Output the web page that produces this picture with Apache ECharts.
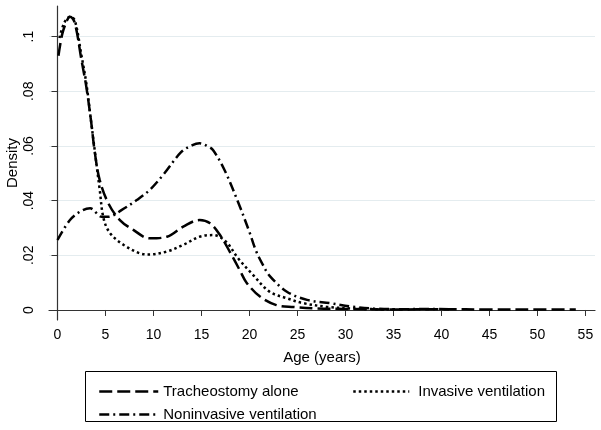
<!DOCTYPE html>
<html>
<head>
<meta charset="utf-8">
<script src="https://cdn.jsdelivr.net/npm/echarts@6/dist/echarts.min.js"></script>
<style>
html,body{margin:0;padding:0;background:#fff;}
#c{width:601px;height:430px;}
</style>
</head>
<body>
<div id="c"></div>
<script>
var xTicks = [0,5,10,15,20,25,30,35,40,45,50,55];
var yTicks = [0,0.02,0.04,0.06,0.08,0.1];
var yTickLabels = ['0','.02','.04','.06','.08','.1'];

var ageTrach  = [0.1,0.5,1.0,1.3,1.8,2.5,3.0,3.5,3.9,4.4,5.3,6.5,7.9,9.6,11.4,13.1,14.8,15.9,16.9,18.0,19.0,19.7,21.1,22.8,24.6,27,30,35,40,45,50,54];
var densTrach = [0.093,0.101,0.106,0.1073,0.105,0.0914,0.0817,0.069,0.0573,0.0475,0.039,0.0329,0.0293,0.0262,0.0268,0.0305,0.0329,0.0317,0.0276,0.021,0.0145,0.0100,0.0049,0.0018,0.0011,0.0006,0.0004,0.0002,0.0003,0.0002,0.0002,0.0002];

var ageInv  = [0.2,0.7,1.3,1.8,2.5,3.0,3.5,4.0,4.4,4.8,5.5,6.9,8.6,9.6,11.4,13.1,14.8,16.2,17.5,18.8,20.2,22.1,23.9,25.6,28,31,35];
var densInv = [0.0995,0.105,0.1073,0.106,0.093,0.083,0.069,0.055,0.044,0.0335,0.028,0.0238,0.0207,0.0203,0.0214,0.0238,0.0268,0.0274,0.0252,0.019,0.0135,0.0067,0.0043,0.0025,0.0012,0.0005,0.0002];

var ageNonInv  = [0,1.3,2.5,3.4,4.6,5.3,6.7,8.25,9.6,11.0,12.9,14.0,14.8,15.6,16.2,17.4,18.8,20.0,20.7,21.4,22.1,23.9,26,28.4,30.8,33,36,39,41];
var densNonInv = [0.0256,0.0329,0.0363,0.0372,0.0341,0.0341,0.0366,0.0402,0.0439,0.0494,0.0578,0.0602,0.0610,0.0600,0.0585,0.0512,0.0396,0.0285,0.0215,0.0165,0.0125,0.0067,0.0037,0.0025,0.0012,0.0005,0.0003,0.0004,0.0002];

function zip(a,b){ return a.map(function(v,i){ return [v,b[i]]; }); }

var chart = echarts.init(document.getElementById('c'), null, {renderer:'canvas'});
var font = 'Liberation Sans, Arial, sans-serif';
function lineSeries(name, data, dash){
  return {
    name: name, type: 'line', data: data, smooth: 0.35, symbol: 'none',
    lineStyle: {color:'#000', width: 2.5, type: dash},
    itemStyle: {color:'#000'},
    emphasis: {disabled: true}, animation: false
  };
}
var legendCommon = {
  orient:'vertical', top:379, itemHeight:14, itemGap:8, selectedMode:false,
  itemStyle:{color:'rgba(0,0,0,0)', borderWidth:0, opacity:0},
  lineStyle:{width:2.5, color:'#000'}
};
chart.setOption({
  animation: false,
  grid: {left: 49, right: 6, top: 6, bottom: 110, containLabel: false, outerBoundsMode: 'none'},
  xAxis: {
    type: 'value', min: -0.885, max: 56,
    axisLine: {lineStyle:{color:'#333', width:1.2}},
    axisTick: {show:true, length:6, lineStyle:{color:'#333'}, customValues: xTicks},
    axisLabel: {customValues: xTicks, color:'#000', fontSize:14, fontFamily:font, margin:8},
    splitLine: {show:false},
    name: 'Age (years)', nameLocation:'middle', nameGap: 30, nameMoveOverlap: false,
    nameTextStyle: {color:'#000', fontSize:15, fontFamily:font}
  },
  yAxis: {
    type: 'value', min: -0.00366, max: 0.1112,
    axisLine: {show:true, lineStyle:{color:'#333', width:1.2}},
    axisTick: {show:true, length:6, lineStyle:{color:'#333'}, customValues: yTicks},
    axisLabel: {customValues: yTicks, rotate: 90, color:'#000', fontSize:14, fontFamily:font, margin:13,
      formatter: function(v){ var i = yTicks.findIndex(function(t){return Math.abs(t-v)<1e-9;}); return i>=0 ? yTickLabels[i] : ''; }},
    splitLine: {show:true, lineStyle:{color:'#e4ecef', width:1.2}},
    name: 'Density', nameLocation:'middle', nameGap: 29, nameRotate: 90, nameMoveOverlap: false,
    nameTextStyle: {color:'#000', fontSize:15, fontFamily:font}
  },
  legend: [
    Object.assign({data:['Tracheostomy alone','Noninvasive ventilation'], left:93, itemWidth:59,
     textStyle:{color:'#000', fontSize:15, fontFamily:font, padding:[0,0,0,0]}}, legendCommon),
    Object.assign({data:['Invasive ventilation'], left:347, itemWidth:56,
     textStyle:{color:'#000', fontSize:15, fontFamily:font, padding:[0,0,0,4]}}, legendCommon)
  ],
  graphic: [{type:'rect', shape:{x:85.5, y:371.5, width:471, height:50}, style:{fill:'none', stroke:'#000', lineWidth:1}, silent:true}],
  series: [
    lineSeries('Tracheostomy alone', zip(ageTrach, densTrach), [13,5]),
    lineSeries('Invasive ventilation', zip(ageInv, densInv), [2.5,3]),
    lineSeries('Noninvasive ventilation', zip(ageNonInv, densNonInv), [10,4,2,4])
  ]
});
</script>
</body>
</html>
